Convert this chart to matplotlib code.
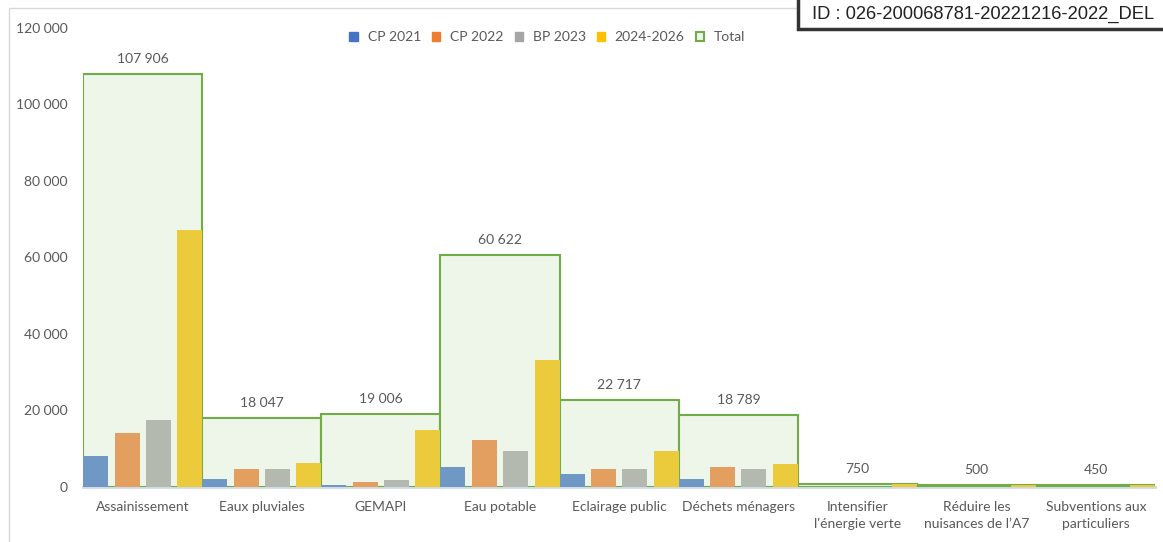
import numpy as np
import matplotlib.pyplot as plt
from matplotlib.patches import Patch, Rectangle

# data
categories = ["Assainissement", "Eaux pluviales", "GEMAPI", "Eau potable",
              "Eclairage public", "Déchets ménagers",
              "Intensifier\nl'énergie verte", "Réduire les\nnuisances de l\u2019A7",
              "Subventions aux\nparticuliers"]
cp2021 = [8100, 2100, 600, 5300, 3300, 2000, 0, 0, 0]
cp2022 = [14200, 4700, 1400, 12300, 4600, 5200, 0, 0, 0]
bp2023 = [17500, 4700, 1900, 9500, 4600, 4600, 0, 0, 0]
y2024_2026 = [67200, 6300, 14800, 33200, 9300, 6000, 750, 500, 450]
totals = [107906, 18047, 19006, 60622, 22717, 18789, 750, 500, 450]

series_names = ["CP 2021", "CP 2022", "BP 2023", "2024-2026"]
legend_colors = ["#4472C4", "#ED7D31", "#A5A5A5", "#FFC000"]
bar_colors = ["#6F98C4", "#E29F5F", "#B3B9AE", "#EBCB3B"]

text_col = "#595959"
plt.rcParams['font.family'] = ['Lato', 'DejaVu Sans']

fig = plt.figure(figsize=(11.63, 5.42), dpi=100)
ax = fig.add_axes([0.0714, 0.1015, 0.922, 0.8469])

x = np.arange(len(categories))

# total bars behind
ax.bar(x, totals, width=1.0, color="#EEF6E9", edgecolor="#70AD47",
       linewidth=1.5, zorder=1)
for xi, t in zip(x, totals):
    ax.annotate(f"{t:,}".replace(",", " "), (xi, t), xytext=(0, 6.5),
                textcoords="offset points", ha="center", va="bottom",
                fontsize=10, color=text_col)

offsets = [-0.395, -0.13, 0.13, 0.395]
for vals, off, col in zip([cp2021, cp2022, bp2023, y2024_2026], offsets, bar_colors):
    ax.bar(x + off, vals, width=0.21, color=col, zorder=2)

ax.set_xlim(-0.5, len(categories) - 0.5)
ax.set_ylim(0, 120000)
ax.set_yticks(np.arange(0, 120001, 20000))
ax.set_yticklabels([f"{v:,}".replace(",", " ") for v in range(0, 120001, 20000)])
ax.set_xticks(x)
ax.set_xticklabels(categories, linespacing=1.5)
ax.tick_params(axis="both", length=0, labelsize=10, colors=text_col)
ax.tick_params(axis="x", pad=10)
ax.tick_params(axis="y", pad=11)
for s in ["top", "right", "left"]:
    ax.spines[s].set_visible(False)
ax.spines["bottom"].set_color("#D0D9E4")
ax.spines["bottom"].set_linewidth(2)
ax.spines["bottom"].set_zorder(0)

handles = [Patch(facecolor=c, edgecolor=c) for c in legend_colors]
handles.append(Patch(facecolor="#EEF6E9", edgecolor="#70AD47", linewidth=1.5))
ax.legend(handles, series_names + ["Total"], ncol=5, loc="center",
          bbox_to_anchor=(0.433, 0.98), frameon=False, fontsize=10,
          handlelength=0.6, handleheight=0.6, handletextpad=0.7,
          columnspacing=0.8, labelcolor=text_col)

# light outer frame of the chart area
fig.patches.append(Rectangle((9 / 1163, -0.1), 1.2, 1 - 8 / 542 + 0.1,
                             transform=fig.transFigure, fill=False,
                             edgecolor="#D9D9D9", linewidth=1))

# stamp box at top right (runs past the picture edge, as in the source)
fig.patches.append(Rectangle((798 / 1163, 1 - 29 / 542), 0.4, 0.2,
                             transform=fig.transFigure, facecolor="white",
                             edgecolor="#333333", linewidth=2.5, zorder=5))
fig.text(812 / 1163, 1 - 14 / 542, "ID : 026-200068781-20221216-2022_DEL",
         family="Liberation Sans", fontsize=13.2, color="#222222",
         va="center", ha="left", zorder=6)

fig.savefig("out.png", dpi=100)
